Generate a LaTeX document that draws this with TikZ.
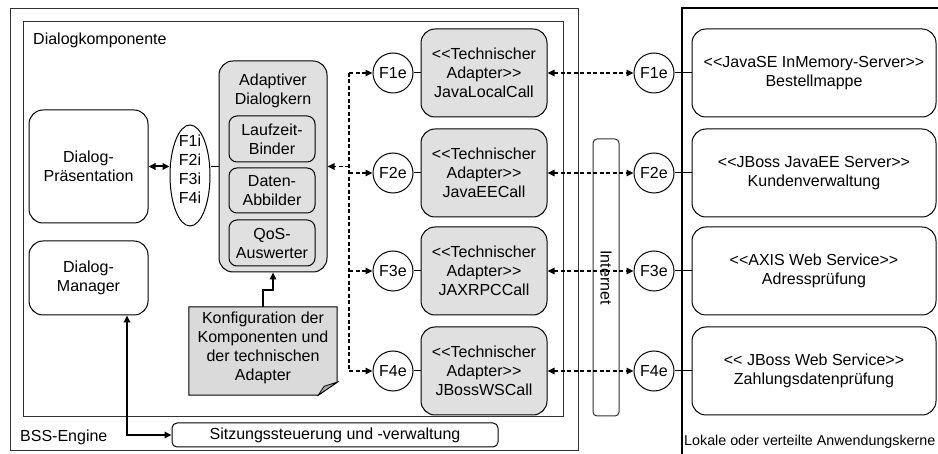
\documentclass[tikz,border=0pt]{standalone}
\usepackage{fontspec}
\setmainfont{Liberation Sans}[Ligatures=TeXOff]
\usetikzlibrary{arrows.meta,shapes.geometric}
\definecolor{boxgray}{RGB}{224,224,224}
\definecolor{notegray}{RGB}{218,218,218}
\definecolor{foldgray}{RGB}{170,170,170}
\definecolor{linegray}{RGB}{50,50,50}
\begin{document}
\begin{tikzpicture}[x=1pt,y=-1pt,
  font=\fontsize{16}{19}\selectfont,
  frame/.style={draw=linegray, line width=1pt, inner sep=0pt},
  rbox/.style={draw, line width=1pt, rounded corners=14pt, align=center, inner sep=0pt},
  gbox/.style={rbox, fill=boxgray},
  sbox/.style={draw, line width=1pt, rounded corners=8pt, align=center, inner sep=0pt, fill=boxgray, minimum width=86pt},
  circ/.style={draw, circle, line width=1pt, minimum size=40pt, inner sep=0pt, fill=white},
  lbl/.style={inner sep=0pt, align=center},
  dsh/.style={line width=1.5pt, dash pattern=on 4pt off 2.5pt},
  tipend/.style={-{Triangle[length=7pt,width=6.5pt]}},
  tipboth/.style={{Triangle[length=7pt,width=6.5pt]}-{Triangle[length=7pt,width=6.5pt]}},
  thk/.style={line width=2pt},
  thin/.style={line width=1pt}
]
\useasboundingbox (0,0) rectangle (938,454);
\clip (0,0) rectangle (938,454);
\fill[white] (0,0) rectangle (938,454);

% frames
\node[frame, minimum width=568pt, minimum height=442pt] (bss) at (294,230) {};
\node[frame, minimum width=540pt, minimum height=395pt] (dk) at (293,219.5) {};
\node[lbl, anchor=west] (dklbl) at (33,40) {Dialogkomponente};
\node[lbl, anchor=west] (bsslbl) at (20,437) {BSS-Engine};

% left part
\node[rbox, minimum width=119pt, minimum height=113pt] (dp) at (88.5,166.5) {Dialog-\\Präsentation};
\node[rbox, minimum width=119pt, minimum height=74pt] (dm) at (88.5,278) {Dialog-\\Manager};
\node[draw, ellipse, line width=1pt, minimum width=40pt, minimum height=101pt, inner sep=0pt] (ell) at (190,175.5) {};
\node[lbl] (elltxt) at (190,169) {F1i\\F2i\\F3i\\F4i};

\draw[thk, tipboth] (dp.east) -- (dp.east -| ell.west);

% adaptive core
\node[gbox, minimum width=108pt, minimum height=211pt] (adk) at (273,166.5) {};
\node[lbl] (adktxt) at (273,91) {Adaptiver\\Dialogkern};
\node[sbox, minimum height=46pt] (lb) at (272,139) {Laufzeit-\\Binder};
\node[sbox, minimum height=45pt] (da) at (272,190.5) {Daten-\\Abbilder};
\node[sbox, minimum height=46pt] (qos) at (272,243) {QoS-\\Auswerter};
\draw[thin] (dp.east -| ell.east) -- (dp.east -| adk.west);

% note
\node[minimum width=148pt, minimum height=88pt, inner sep=0pt] (note) at (263,351) {};
\filldraw[fill=notegray, line width=1pt] (note.north west) -- (note.north east) -- ([yshift=13pt]note.south east) -- ([xshift=-19pt]note.south east) -- (note.south west) -- cycle;
\filldraw[fill=foldgray, line width=0.8pt] ([yshift=13pt]note.south east) -- ([xshift=-13pt,yshift=9pt]note.south east) -- ([xshift=-19pt]note.south east) -- cycle;
\node[lbl] (notetxt) at (263,348) {Konfiguration der\\Komponenten und\\der technischen\\Adapter};
\draw[thk, tipend] (note.north) -- ++(0,-17) -| (adk.south);

% session
\node[draw, line width=1pt, rounded corners=5pt, minimum width=326pt, minimum height=24pt, inner sep=0pt] (sitz) at (335,435) {Sitzungssteuerung und -verwaltung};
\draw[thk, tipboth] ([xshift=38.5pt]dm.south) |- (sitz.west);

% internet
\node[draw=linegray, line width=1pt, rounded corners=4pt, minimum width=26pt, minimum height=277pt, inner sep=0pt] (inet) at (606,277.5) {};
\node[lbl, rotate=-90] (inettxt) at (606,277.5) {Internet};

% right frame
\draw[line width=2pt] (682,470) -- (682,8) -- (950,8);
\node[lbl, anchor=west, font=\fontsize{14.3}{17}\selectfont] (lokal) at (684,442) {Lokale oder verteilte Anwendungskerne};

% adapters, circles, right boxes
\foreach \i/\y/\ad/\rt in {1/73/JavaLocalCall/{<<JavaSE InMemory-Server>>\\Bestellmappe},
                           2/173/JavaEECall/{<<JBoss JavaEE Server>>\\Kundenverwaltung},
                           3/271/JAXRPCCall/{<<AXIS Web Service>>\\Adressprüfung},
                           4/371/JBossWSCall/{<< JBoss Web Service>>\\Zahlungsdatenprüfung}}{
  \node[gbox, minimum width=126pt, minimum height=88pt] (ad\i) at (484,\y) {<<Technischer\\Adapter>>\\\ad};
  \node[circ] (cl\i) at (393,\y) {F\i e};
  \node[circ] (cr\i) at (654,\y) {F\i e};
  \node[rbox, fill=white, minimum width=244pt, minimum height=88pt] (rb\i) at (814,\y) {\rt};
  \coordinate (b\i) at (349,\y);
  \draw[thin] (cl\i.east) -- (ad\i.west);
  \draw[thin] (cr\i.east) -- (rb\i.west);
  \draw[dsh, tipend] (b\i) -- (cl\i.west);
  \draw[dsh, tipboth] (ad\i.east) -- (cr\i.west);
}
\coordinate (bus) at (349,166.5);
\draw[dsh] (b1) -- (b4);
\draw[dsh, tipend] (bus) -- (adk.east);
\end{tikzpicture}
\end{document}
